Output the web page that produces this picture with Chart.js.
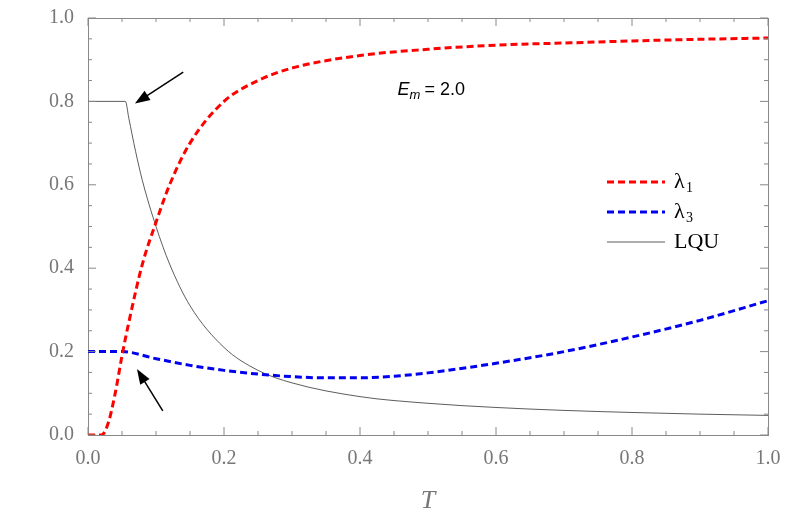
<!DOCTYPE html>
<html>
<head>
<meta charset="utf-8">
<script src="https://cdn.jsdelivr.net/npm/chart.js@4.4.1/dist/chart.umd.min.js"></script>
<style>
  html, body { margin: 0; padding: 0; background: #fff; }
  #wrap { width: 789px; height: 521px; }
</style>
</head>
<body>
<div id="wrap"><canvas id="grafica"></canvas></div>
<script>
// Valores
const tLambda1 = [0.0, 0.02, 0.03, 0.04, 0.05, 0.06, 0.08, 0.1, 0.12, 0.15, 0.2, 0.25, 0.3, 0.4, 0.5, 0.6, 0.7, 0.8, 0.9, 1.0];
const lambda1  = [0.0, 0.0, 0.03, 0.1, 0.19, 0.27, 0.41, 0.51, 0.6, 0.7, 0.8, 0.85, 0.88, 0.91, 0.925, 0.935, 0.94, 0.945, 0.949, 0.952];

const tLambda3 = [0.0, 0.05, 0.1, 0.15, 0.2, 0.25, 0.3, 0.35, 0.4, 0.45, 0.5, 0.6, 0.7, 0.8, 0.9, 1.0];
const lambda3  = [0.2, 0.2, 0.183, 0.167, 0.155, 0.146, 0.14, 0.137, 0.137, 0.141, 0.149, 0.172, 0.2, 0.235, 0.275, 0.322];

const tLqu = [0.0, 0.055, 0.06, 0.07, 0.08, 0.1, 0.12, 0.15, 0.2, 0.25, 0.3, 0.4, 0.5, 0.6, 0.7, 0.8, 0.9, 1.0];
const lqu  = [0.8, 0.8, 0.76, 0.68, 0.61, 0.5, 0.41, 0.31, 0.21, 0.155, 0.125, 0.092, 0.076, 0.066, 0.059, 0.054, 0.05, 0.047];

const ticksX = [0, 0.2, 0.4, 0.6, 0.8, 1.0];
const ticksY = [0, 0.2, 0.4, 0.6, 0.8, 1.0];

const puntos = (xs, ys) => xs.map((x, i) => ({ x, y: ys[i] }));

// Flechas y anotaciones en coordenadas de datos
const flechas = [
    { desde: [0.14, 0.87], hasta: [0.069, 0.795] },
    { desde: [0.11, 0.058], hasta: [0.072, 0.158] }
];

const pluginExtras = {
    id: 'extras',
    afterDatasetsDraw(chart) {
        const { ctx, chartArea: a, scales: { x, y } } = chart;
        ctx.save();
        // marcas del marco (ticks internos en los cuatro lados)
        ctx.strokeStyle = '#888';
        ctx.lineWidth = 1;
        for (let k = 0; k <= 20; k++) {
            const v = k / 20;
            const largo = k % 4 === 0 ? 8 : 4;
            const px = x.getPixelForValue(v), py = y.getPixelForValue(v);
            ctx.beginPath();
            ctx.moveTo(px, a.bottom); ctx.lineTo(px, a.bottom - largo);
            ctx.moveTo(px, a.top); ctx.lineTo(px, a.top + largo);
            ctx.moveTo(a.left, py); ctx.lineTo(a.left + largo, py);
            ctx.moveTo(a.right, py); ctx.lineTo(a.right - largo, py);
            ctx.stroke();
        }
        // flechas
        ctx.strokeStyle = '#000';
        ctx.fillStyle = '#000';
        ctx.lineWidth = 1.5;
        flechas.forEach(f => {
            const x0 = x.getPixelForValue(f.desde[0]), y0 = y.getPixelForValue(f.desde[1]);
            const x1 = x.getPixelForValue(f.hasta[0]), y1 = y.getPixelForValue(f.hasta[1]);
            const ang = Math.atan2(y1 - y0, x1 - x0);
            ctx.beginPath(); ctx.moveTo(x0, y0);
            ctx.lineTo(x1 - 10 * Math.cos(ang), y1 - 10 * Math.sin(ang)); ctx.stroke();
            ctx.beginPath();
            ctx.moveTo(x1, y1);
            ctx.lineTo(x1 - 16 * Math.cos(ang - 0.35), y1 - 16 * Math.sin(ang - 0.35));
            ctx.lineTo(x1 - 16 * Math.cos(ang + 0.35), y1 - 16 * Math.sin(ang + 0.35));
            ctx.closePath(); ctx.fill();
        });
        // etiqueta E_m = 2.0
        const ex = x.getPixelForValue(0.455), ey = y.getPixelForValue(0.815);
        ctx.font = 'italic 18px "Liberation Sans"';
        ctx.textBaseline = 'alphabetic';
        ctx.fillText('E', ex, ey);
        ctx.font = 'italic 13px "Liberation Sans"';
        ctx.fillText('m', ex + 12, ey + 4);
        ctx.font = '18px "Liberation Sans"';
        ctx.fillText(' = 2.0', ex + 22, ey);
        // leyenda
        const filas = [
            { color: '#ff0000', dash: [7, 4], ancho: 3, texto: 'λ', sub: '1' },
            { color: '#0000ee', dash: [7, 4], ancho: 3, texto: 'λ', sub: '3' },
            { color: '#333', dash: [], ancho: 0.8, texto: 'LQU', sub: '' }
        ];
        filas.forEach((r, i) => {
            const yy = 182 + i * 30;
            ctx.strokeStyle = r.color; ctx.lineWidth = r.ancho; ctx.setLineDash(r.dash);
            ctx.beginPath(); ctx.moveTo(607, yy); ctx.lineTo(665, yy); ctx.stroke();
            ctx.setLineDash([]);
            ctx.fillStyle = '#000';
            ctx.textBaseline = 'middle';
            ctx.font = '22px "Liberation Serif"';
            ctx.fillText(r.texto, 674, yy);
            if (r.sub) {
                ctx.font = '14px "Liberation Serif"';
                ctx.fillText(r.sub, 686, yy + 6);
            }
        });
        ctx.restore();
    }
};

new Chart(document.getElementById('grafica'), {
    type: 'line',
    data: {
        datasets: [
            { label: 'λ1', data: puntos(tLambda1, lambda1), borderColor: '#ff0000', borderWidth: 3, borderDash: [7, 4], pointRadius: 0, tension: 0.4, cubicInterpolationMode: 'monotone' },
            { label: 'λ3', data: puntos(tLambda3, lambda3), borderColor: '#0000ee', borderWidth: 3, borderDash: [7, 4], pointRadius: 0, tension: 0.4, cubicInterpolationMode: 'monotone' },
            { label: 'LQU', data: puntos(tLqu, lqu), borderColor: '#333', borderWidth: 0.8, pointRadius: 0, tension: 0.4, cubicInterpolationMode: 'monotone' }
        ]
    },
    options: {
        responsive: true,
        maintainAspectRatio: false,
        animation: false,
        layout: { padding: { top: 7, right: 21, left: 0, bottom: 0 } },
        plugins: { legend: { display: false }, tooltip: { enabled: false } },
        scales: {
            x: {
                type: 'linear', min: 0, max: 1,
                afterBuildTicks: s => { s.ticks = ticksX.map(v => ({ value: v })); },
                afterFit: s => { s.height = 86; },
                grid: { display: false },
                border: { display: true, color: '#888' },
                ticks: { color: '#777', font: { family: 'Liberation Serif', size: 20 }, padding: 4, callback: v => v.toFixed(1) },
                title: { display: true, text: 'T', color: '#777', font: { family: 'Liberation Serif', size: 26, style: 'italic' }, padding: { top: 6 } }
            },
            y: {
                min: 0, max: 1,
                afterBuildTicks: s => { s.ticks = ticksY.map(v => ({ value: v })); },
                afterFit: s => { s.width = 88; },
                grid: { display: false },
                border: { display: true, color: '#888' },
                ticks: { color: '#777', font: { family: 'Liberation Serif', size: 20 }, padding: 6, callback: v => v.toFixed(1) }
            },
            yDer: {
                position: 'right', min: 0, max: 1,
                afterFit: s => { s.width = 0; },
                grid: { display: false },
                border: { display: true, color: '#888' },
                ticks: { display: false }
            },
            xArr: {
                type: 'linear', position: 'top', min: 0, max: 1,
                afterFit: s => { s.height = 0; },
                grid: { display: false },
                border: { display: true, color: '#888' },
                ticks: { display: false }
            }
        }
    },
    plugins: [pluginExtras]
});
</script>
</body>
</html>
